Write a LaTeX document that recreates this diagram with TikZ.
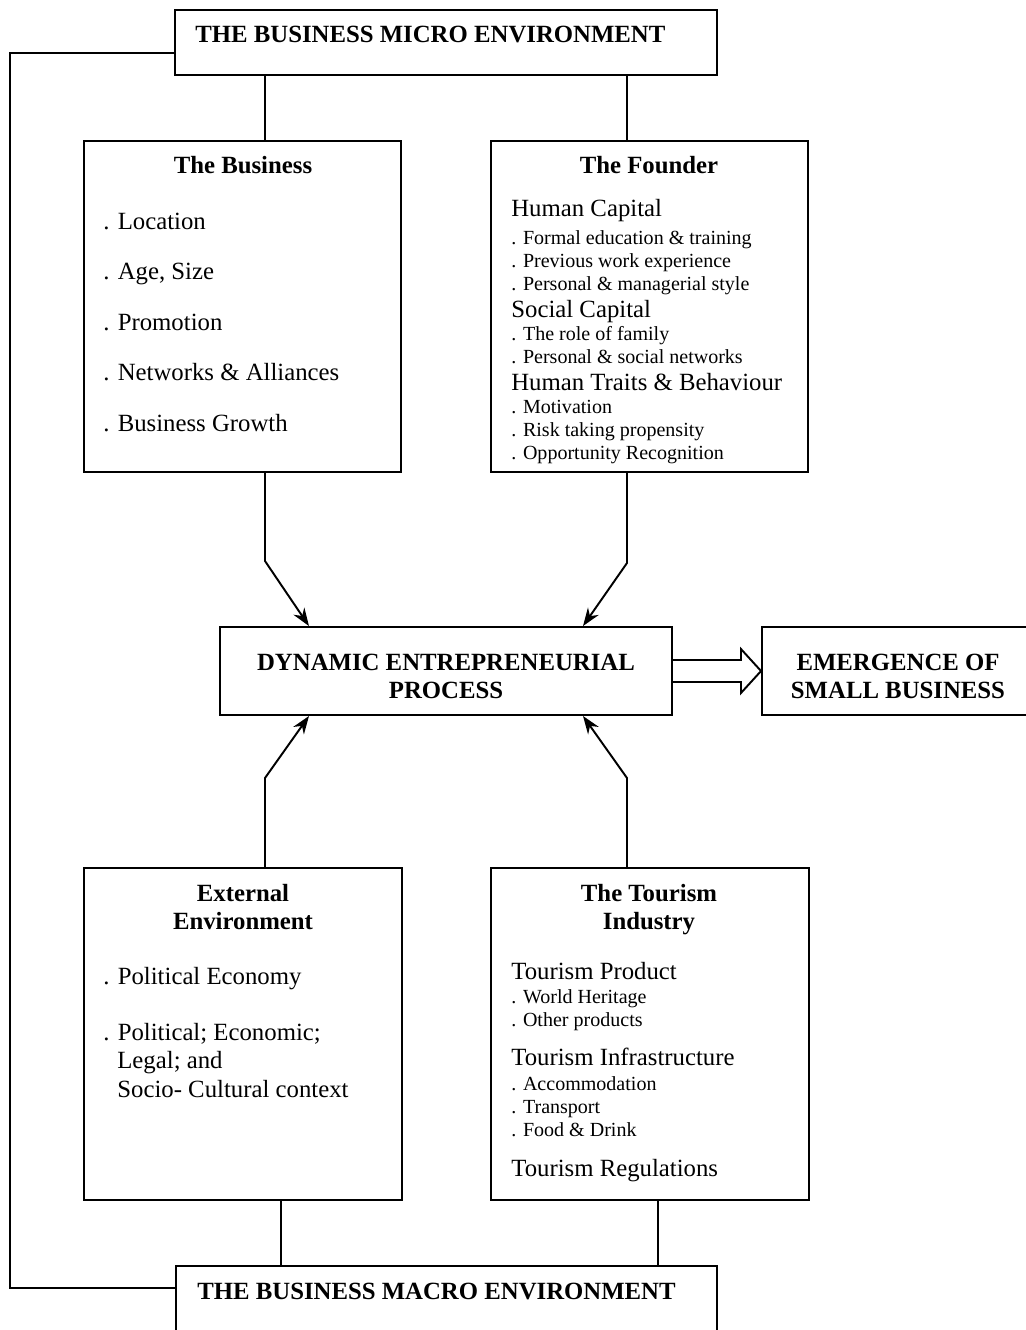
\documentclass[tikz,border=0pt]{standalone}
\usepackage{fontspec}
\setmainfont{Liberation Serif}
\usetikzlibrary{arrows.meta,fit,calc}
\newcommand\fnthead{\fontsize{14.1}{16}\selectfont\bfseries}
\newcommand\fntbig{\fontsize{14.1}{16}\selectfont}
\newcommand\fntsmall{\fontsize{11.4}{13}\selectfont}
\tikzset{
  box/.style={draw, line width=1.1pt, inner sep=0pt},
  head/.style={font=\fnthead, anchor=base, inner sep=0pt},
  caps/.style={font=\fnthead, anchor=base west, inner sep=0pt},
  big/.style={font=\fntbig, anchor=base west, inner sep=0pt},
  small/.style={font=\fntsmall, anchor=base west, inner sep=0pt},
  link/.style={line width=1.1pt},
  feed/.style={line width=1.1pt, -{Stealth[length=3.6mm,width=2.6mm]}}
}
\begin{document}
\begin{tikzpicture}[x=0.02cm, y=-0.02cm]
        \useasboundingbox (0,0) rectangle (1026,1330);

        % boxes
        \node[box, fit={(175,10) (717,75)}] (micro) {};
        \node[box, fit={(84,141) (401,472)}] (biz) {};
        \node[box, fit={(491,141) (808,472)}] (fnd) {};
        \node[box, fit={(220,627) (672,715)}] (dep) {};
        \node[box, fit={(762,627) (1034,715)}] (emg) {};
        \node[box, fit={(84,868) (402,1200)}] (ext) {};
        \node[box, fit={(491,868) (809,1200)}] (tour) {};
        \node[box, fit={(176,1266) (717,1340)}] (macro) {};

        \node[caps] (microtxt) at (195,42) {THE BUSINESS MICRO ENVIRONMENT};
        \node[caps] (macrotxt) at (197,1299) {THE BUSINESS MACRO ENVIRONMENT};

        % the business
        \node[head] (bizhead) at (243,173) {The Business};
        \foreach \txt [count=\i] in {Location, {Age, Size}, Promotion,
            Networks \& Alliances, Business Growth}
          \node[big] (biz\i) at (103,{229+50.5*(\i-1)}) {. \txt};

        % the founder
        \node[head] (fndhead) at (649,173) {The Founder};
        \node[big] (hcap) at (511,216) {Human Capital};
        \foreach \txt [count=\i] in {Formal education \& training,
            Previous work experience, Personal \& managerial style}
          \node[small] (hcap\i) at (511,{244+23*(\i-1)}) {. \txt};
        \node[big] (scap) at (511,317) {Social Capital};
        \foreach \txt [count=\i] in {The role of family, Personal \& social networks}
          \node[small] (scap\i) at (511,{340+23*(\i-1)}) {. \txt};
        \node[big] (trait) at (511,390) {Human Traits \& Behaviour};
        \foreach \txt [count=\i] in {Motivation, Risk taking propensity,
            Opportunity Recognition}
          \node[small] (trait\i) at (511,{413+23*(\i-1)}) {. \txt};

        % process and outcome
        \node[head] (depA) at (446,670) {DYNAMIC ENTREPRENEURIAL};
        \node[head] (depB) at (446,698) {PROCESS};
        \node[head] (emgA) at (898,670) {EMERGENCE OF};
        \node[head] (emgB) at (898,698) {SMALL BUSINESS};

        % external environment
        \node[head] (extA) at (243,901) {External};
        \node[head] (extB) at (243,929) {Environment};
        \node[big] (ext1) at (103,984) {. Political Economy};
        \node[big] (ext2) at (103,1040) {. Political; Economic;};
        \node[big] (ext3) at (117,1068) {Legal; and};
        \node[big] (ext4) at (117,1097) {Socio- Cultural context};

        % tourism industry
        \node[head] (tourA) at (649,901) {The Tourism};
        \node[head] (tourB) at (649,929) {Industry};
        \node[big] (tprod) at (511,979) {Tourism Product};
        \foreach \txt [count=\i] in {World Heritage, Other products}
          \node[small] (tprod\i) at (511,{1003+23*(\i-1)}) {. \txt};
        \node[big] (tinfra) at (511,1065) {Tourism Infrastructure};
        \foreach \txt [count=\i] in {Accommodation, Transport, Food \& Drink}
          \node[small] (tinfra\i) at (511,{1090+23*(\i-1)}) {. \txt};
        \node[big] (treg) at (511,1176) {Tourism Regulations};

        % connectors
        \coordinate (xl) at (265,0);
        \coordinate (xr) at (627,0);
        \coordinate (xbl) at (281,0);
        \coordinate (xbr) at (658,0);
        \coordinate (tipl) at (309,0);
        \coordinate (tipr) at (583,0);
        \coordinate (bendtl) at (265,561);
        \coordinate (bendtr) at (627,563);
        \coordinate (bendbl) at (265,778);
        \coordinate (bendbr) at (627,778);
        \coordinate (looptop) at (10,53);
        \coordinate (loopbot) at (10,1288);

        \draw[link] (micro.south -| xl) -- (biz.north -| xl);
        \draw[link] (micro.south -| xr) -- (fnd.north -| xr);
        \draw[feed] (biz.south -| xl) -- (bendtl) -- (dep.north -| tipl);
        \draw[feed] (fnd.south -| xr) -- (bendtr) -- (dep.north -| tipr);
        \draw[feed] (ext.north -| xl) -- (bendbl) -- (dep.south -| tipl);
        \draw[feed] (tour.north -| xr) -- (bendbr) -- (dep.south -| tipr);
        \draw[link] (ext.south -| xbl) -- (macro.north -| xbl);
        \draw[link] (tour.south -| xbr) -- (macro.north -| xbr);
        \draw[link] (micro.west |- looptop) -- (looptop) -- (loopbot)
          -- (macro.west |- loopbot);

        \draw[link, line join=miter] ($(dep.east)+(0,-11)$) -- ++(68,0) -- ++(0,-11)
          -- (emg.west) -- ($(dep.east)+(68,22)$) -- ++(0,-11) -- ($(dep.east)+(0,11)$);
      \end{tikzpicture}
\end{document}
